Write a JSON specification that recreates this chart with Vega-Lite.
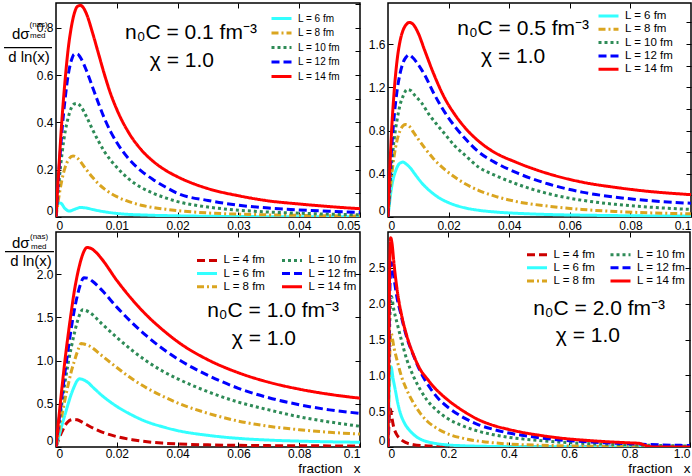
{
"$schema": "https://vega.github.io/schema/vega-lite/v6.json",
"padding": {"left": 2, "top": 1, "right": 0, "bottom": 0},
"config": {
 "font": "Liberation Sans",
 "view": {"stroke": "#000", "strokeWidth": 1.5},
 "axis": {"domain": false, "grid": false, "tickSize": -5, "tickColor": "#000", "tickWidth": 1, "labelPadding": 8, "labelFontSize": 12, "labelColor": "#000", "labelFont": "Liberation Sans", "labelFlush": true, "labelOverlap": false, "titleFont": "Liberation Sans", "titleFontWeight": "normal", "titleColor": "#000"},
 "legend": {"symbolType": "M-1,0H3", "symbolSize": 100, "symbolStrokeWidth": 3, "labelOffset": 15, "rowPadding": 0.3, "padding": 0, "gridAlign": "each", "labelFont": "Liberation Sans", "labelColor": "#000", "title": null},
 "text": {"font": "Liberation Sans", "color": "#000"}
},
"datasets": {
 "tl": [
  {"x":0,"y":0,"L":"L = 6 fm"},{"x":0.0003,"y":0.06,"L":"L = 6 fm"},{"x":0.0008,"y":0.058,"L":"L = 6 fm"},{"x":0.0015,"y":0.035,"L":"L = 6 fm"},{"x":0.0022,"y":0.025,"L":"L = 6 fm"},{"x":0.003,"y":0.032,"L":"L = 6 fm"},{"x":0.004,"y":0.04,"L":"L = 6 fm"},{"x":0.005,"y":0.038,"L":"L = 6 fm"},{"x":0.006,"y":0.032,"L":"L = 6 fm"},{"x":0.008,"y":0.022,"L":"L = 6 fm"},{"x":0.01,"y":0.015,"L":"L = 6 fm"},{"x":0.015,"y":0.008,"L":"L = 6 fm"},{"x":0.02,"y":0.005,"L":"L = 6 fm"},{"x":0.03,"y":0.002,"L":"L = 6 fm"},{"x":0.04,"y":0.001,"L":"L = 6 fm"},{"x":0.05,"y":0.0005,"L":"L = 6 fm"},
  {"x":0,"y":0,"L":"L = 8 fm"},{"x":0.0005,"y":0.09,"L":"L = 8 fm"},{"x":0.001,"y":0.16,"L":"L = 8 fm"},{"x":0.0015,"y":0.21,"L":"L = 8 fm"},{"x":0.002,"y":0.24,"L":"L = 8 fm"},{"x":0.0028,"y":0.258,"L":"L = 8 fm"},{"x":0.0035,"y":0.25,"L":"L = 8 fm"},{"x":0.004,"y":0.235,"L":"L = 8 fm"},{"x":0.005,"y":0.2,"L":"L = 8 fm"},{"x":0.006,"y":0.168,"L":"L = 8 fm"},{"x":0.007,"y":0.14,"L":"L = 8 fm"},{"x":0.008,"y":0.118,"L":"L = 8 fm"},{"x":0.009,"y":0.1,"L":"L = 8 fm"},{"x":0.01,"y":0.086,"L":"L = 8 fm"},{"x":0.012,"y":0.065,"L":"L = 8 fm"},{"x":0.014,"y":0.05,"L":"L = 8 fm"},{"x":0.016,"y":0.04,"L":"L = 8 fm"},{"x":0.018,"y":0.033,"L":"L = 8 fm"},{"x":0.02,"y":0.027,"L":"L = 8 fm"},{"x":0.025,"y":0.017,"L":"L = 8 fm"},{"x":0.03,"y":0.012,"L":"L = 8 fm"},{"x":0.035,"y":0.009,"L":"L = 8 fm"},{"x":0.04,"y":0.007,"L":"L = 8 fm"},{"x":0.045,"y":0.005,"L":"L = 8 fm"},{"x":0.05,"y":0.004,"L":"L = 8 fm"},
  {"x":0,"y":0,"L":"L = 10 fm"},{"x":0.0005,"y":0.15,"L":"L = 10 fm"},{"x":0.001,"y":0.27,"L":"L = 10 fm"},{"x":0.0015,"y":0.36,"L":"L = 10 fm"},{"x":0.002,"y":0.42,"L":"L = 10 fm"},{"x":0.0025,"y":0.46,"L":"L = 10 fm"},{"x":0.003,"y":0.478,"L":"L = 10 fm"},{"x":0.0035,"y":0.48,"L":"L = 10 fm"},{"x":0.004,"y":0.47,"L":"L = 10 fm"},{"x":0.005,"y":0.425,"L":"L = 10 fm"},{"x":0.006,"y":0.37,"L":"L = 10 fm"},{"x":0.007,"y":0.32,"L":"L = 10 fm"},{"x":0.008,"y":0.275,"L":"L = 10 fm"},{"x":0.009,"y":0.24,"L":"L = 10 fm"},{"x":0.01,"y":0.21,"L":"L = 10 fm"},{"x":0.012,"y":0.16,"L":"L = 10 fm"},{"x":0.014,"y":0.125,"L":"L = 10 fm"},{"x":0.016,"y":0.1,"L":"L = 10 fm"},{"x":0.018,"y":0.081,"L":"L = 10 fm"},{"x":0.02,"y":0.065,"L":"L = 10 fm"},{"x":0.025,"y":0.042,"L":"L = 10 fm"},{"x":0.03,"y":0.029,"L":"L = 10 fm"},{"x":0.035,"y":0.021,"L":"L = 10 fm"},{"x":0.04,"y":0.016,"L":"L = 10 fm"},{"x":0.045,"y":0.012,"L":"L = 10 fm"},{"x":0.05,"y":0.009,"L":"L = 10 fm"},
  {"x":0,"y":0,"L":"L = 12 fm"},{"x":0.0005,"y":0.2,"L":"L = 12 fm"},{"x":0.001,"y":0.37,"L":"L = 12 fm"},{"x":0.0015,"y":0.5,"L":"L = 12 fm"},{"x":0.002,"y":0.6,"L":"L = 12 fm"},{"x":0.0025,"y":0.66,"L":"L = 12 fm"},{"x":0.003,"y":0.688,"L":"L = 12 fm"},{"x":0.0035,"y":0.69,"L":"L = 12 fm"},{"x":0.004,"y":0.675,"L":"L = 12 fm"},{"x":0.005,"y":0.62,"L":"L = 12 fm"},{"x":0.006,"y":0.55,"L":"L = 12 fm"},{"x":0.007,"y":0.48,"L":"L = 12 fm"},{"x":0.008,"y":0.415,"L":"L = 12 fm"},{"x":0.009,"y":0.36,"L":"L = 12 fm"},{"x":0.01,"y":0.315,"L":"L = 12 fm"},{"x":0.012,"y":0.245,"L":"L = 12 fm"},{"x":0.014,"y":0.195,"L":"L = 12 fm"},{"x":0.016,"y":0.158,"L":"L = 12 fm"},{"x":0.018,"y":0.127,"L":"L = 12 fm"},{"x":0.02,"y":0.1,"L":"L = 12 fm"},{"x":0.025,"y":0.07,"L":"L = 12 fm"},{"x":0.03,"y":0.05,"L":"L = 12 fm"},{"x":0.035,"y":0.038,"L":"L = 12 fm"},{"x":0.04,"y":0.03,"L":"L = 12 fm"},{"x":0.045,"y":0.024,"L":"L = 12 fm"},{"x":0.05,"y":0.019,"L":"L = 12 fm"},
  {"x":0,"y":0,"L":"L = 14 fm"},{"x":0.0005,"y":0.22,"L":"L = 14 fm"},{"x":0.001,"y":0.42,"L":"L = 14 fm"},{"x":0.0015,"y":0.58,"L":"L = 14 fm"},{"x":0.002,"y":0.71,"L":"L = 14 fm"},{"x":0.0025,"y":0.8,"L":"L = 14 fm"},{"x":0.003,"y":0.86,"L":"L = 14 fm"},{"x":0.0035,"y":0.89,"L":"L = 14 fm"},{"x":0.004,"y":0.895,"L":"L = 14 fm"},{"x":0.0045,"y":0.885,"L":"L = 14 fm"},{"x":0.005,"y":0.86,"L":"L = 14 fm"},{"x":0.006,"y":0.78,"L":"L = 14 fm"},{"x":0.007,"y":0.69,"L":"L = 14 fm"},{"x":0.008,"y":0.6,"L":"L = 14 fm"},{"x":0.009,"y":0.52,"L":"L = 14 fm"},{"x":0.01,"y":0.455,"L":"L = 14 fm"},{"x":0.012,"y":0.355,"L":"L = 14 fm"},{"x":0.014,"y":0.285,"L":"L = 14 fm"},{"x":0.016,"y":0.235,"L":"L = 14 fm"},{"x":0.018,"y":0.198,"L":"L = 14 fm"},{"x":0.02,"y":0.17,"L":"L = 14 fm"},{"x":0.025,"y":0.12,"L":"L = 14 fm"},{"x":0.03,"y":0.09,"L":"L = 14 fm"},{"x":0.035,"y":0.068,"L":"L = 14 fm"},{"x":0.04,"y":0.055,"L":"L = 14 fm"},{"x":0.045,"y":0.044,"L":"L = 14 fm"},{"x":0.05,"y":0.035,"L":"L = 14 fm"}
 ],
 "tr": [
  {"x":0,"y":0,"L":"L = 6 fm"},{"x":0.0011,"y":0.26,"L":"L = 6 fm"},{"x":0.0027,"y":0.44,"L":"L = 6 fm"},{"x":0.004,"y":0.5,"L":"L = 6 fm"},{"x":0.005,"y":0.508,"L":"L = 6 fm"},{"x":0.006,"y":0.49,"L":"L = 6 fm"},{"x":0.0075,"y":0.45,"L":"L = 6 fm"},{"x":0.0088,"y":0.4,"L":"L = 6 fm"},{"x":0.011,"y":0.32,"L":"L = 6 fm"},{"x":0.0143,"y":0.23,"L":"L = 6 fm"},{"x":0.017,"y":0.175,"L":"L = 6 fm"},{"x":0.0198,"y":0.135,"L":"L = 6 fm"},{"x":0.0253,"y":0.085,"L":"L = 6 fm"},{"x":0.03,"y":0.062,"L":"L = 6 fm"},{"x":0.036,"y":0.045,"L":"L = 6 fm"},{"x":0.045,"y":0.031,"L":"L = 6 fm"},{"x":0.053,"y":0.023,"L":"L = 6 fm"},{"x":0.064,"y":0.017,"L":"L = 6 fm"},{"x":0.075,"y":0.013,"L":"L = 6 fm"},{"x":0.086,"y":0.01,"L":"L = 6 fm"},{"x":0.1,"y":0.008,"L":"L = 6 fm"},
  {"x":0,"y":0,"L":"L = 8 fm"},{"x":0.001,"y":0.33,"L":"L = 8 fm"},{"x":0.002,"y":0.56,"L":"L = 8 fm"},{"x":0.003,"y":0.71,"L":"L = 8 fm"},{"x":0.004,"y":0.8,"L":"L = 8 fm"},{"x":0.005,"y":0.845,"L":"L = 8 fm"},{"x":0.0058,"y":0.855,"L":"L = 8 fm"},{"x":0.007,"y":0.84,"L":"L = 8 fm"},{"x":0.0085,"y":0.78,"L":"L = 8 fm"},{"x":0.01,"y":0.72,"L":"L = 8 fm"},{"x":0.0121,"y":0.64,"L":"L = 8 fm"},{"x":0.015,"y":0.54,"L":"L = 8 fm"},{"x":0.0187,"y":0.44,"L":"L = 8 fm"},{"x":0.022,"y":0.37,"L":"L = 8 fm"},{"x":0.0253,"y":0.31,"L":"L = 8 fm"},{"x":0.03,"y":0.245,"L":"L = 8 fm"},{"x":0.035,"y":0.195,"L":"L = 8 fm"},{"x":0.042,"y":0.145,"L":"L = 8 fm"},{"x":0.053,"y":0.1,"L":"L = 8 fm"},{"x":0.064,"y":0.07,"L":"L = 8 fm"},{"x":0.075,"y":0.051,"L":"L = 8 fm"},{"x":0.086,"y":0.039,"L":"L = 8 fm"},{"x":0.1,"y":0.029,"L":"L = 8 fm"},
  {"x":0,"y":0,"L":"L = 10 fm"},{"x":0.001,"y":0.42,"L":"L = 10 fm"},{"x":0.002,"y":0.71,"L":"L = 10 fm"},{"x":0.003,"y":0.9,"L":"L = 10 fm"},{"x":0.004,"y":1.04,"L":"L = 10 fm"},{"x":0.005,"y":1.12,"L":"L = 10 fm"},{"x":0.0063,"y":1.18,"L":"L = 10 fm"},{"x":0.0075,"y":1.17,"L":"L = 10 fm"},{"x":0.009,"y":1.12,"L":"L = 10 fm"},{"x":0.011,"y":1.06,"L":"L = 10 fm"},{"x":0.0135,"y":0.95,"L":"L = 10 fm"},{"x":0.016,"y":0.86,"L":"L = 10 fm"},{"x":0.0187,"y":0.77,"L":"L = 10 fm"},{"x":0.022,"y":0.66,"L":"L = 10 fm"},{"x":0.0253,"y":0.575,"L":"L = 10 fm"},{"x":0.03,"y":0.46,"L":"L = 10 fm"},{"x":0.035,"y":0.39,"L":"L = 10 fm"},{"x":0.042,"y":0.31,"L":"L = 10 fm"},{"x":0.053,"y":0.215,"L":"L = 10 fm"},{"x":0.064,"y":0.155,"L":"L = 10 fm"},{"x":0.075,"y":0.117,"L":"L = 10 fm"},{"x":0.086,"y":0.092,"L":"L = 10 fm"},{"x":0.1,"y":0.07,"L":"L = 10 fm"},
  {"x":0,"y":0,"L":"L = 12 fm"},{"x":0.001,"y":0.55,"L":"L = 12 fm"},{"x":0.002,"y":0.92,"L":"L = 12 fm"},{"x":0.003,"y":1.17,"L":"L = 12 fm"},{"x":0.004,"y":1.33,"L":"L = 12 fm"},{"x":0.005,"y":1.43,"L":"L = 12 fm"},{"x":0.006,"y":1.48,"L":"L = 12 fm"},{"x":0.0068,"y":1.5,"L":"L = 12 fm"},{"x":0.008,"y":1.48,"L":"L = 12 fm"},{"x":0.01,"y":1.41,"L":"L = 12 fm"},{"x":0.012,"y":1.32,"L":"L = 12 fm"},{"x":0.015,"y":1.15,"L":"L = 12 fm"},{"x":0.0187,"y":0.97,"L":"L = 12 fm"},{"x":0.022,"y":0.84,"L":"L = 12 fm"},{"x":0.0253,"y":0.73,"L":"L = 12 fm"},{"x":0.03,"y":0.6,"L":"L = 12 fm"},{"x":0.035,"y":0.51,"L":"L = 12 fm"},{"x":0.042,"y":0.415,"L":"L = 12 fm"},{"x":0.053,"y":0.305,"L":"L = 12 fm"},{"x":0.064,"y":0.23,"L":"L = 12 fm"},{"x":0.075,"y":0.184,"L":"L = 12 fm"},{"x":0.086,"y":0.152,"L":"L = 12 fm"},{"x":0.1,"y":0.127,"L":"L = 12 fm"},
  {"x":0,"y":0,"L":"L = 14 fm"},{"x":0.001,"y":0.7,"L":"L = 14 fm"},{"x":0.002,"y":1.15,"L":"L = 14 fm"},{"x":0.003,"y":1.45,"L":"L = 14 fm"},{"x":0.004,"y":1.63,"L":"L = 14 fm"},{"x":0.005,"y":1.73,"L":"L = 14 fm"},{"x":0.006,"y":1.78,"L":"L = 14 fm"},{"x":0.007,"y":1.8,"L":"L = 14 fm"},{"x":0.008,"y":1.79,"L":"L = 14 fm"},{"x":0.01,"y":1.7,"L":"L = 14 fm"},{"x":0.012,"y":1.55,"L":"L = 14 fm"},{"x":0.015,"y":1.33,"L":"L = 14 fm"},{"x":0.0187,"y":1.1,"L":"L = 14 fm"},{"x":0.022,"y":0.95,"L":"L = 14 fm"},{"x":0.0253,"y":0.83,"L":"L = 14 fm"},{"x":0.03,"y":0.7,"L":"L = 14 fm"},{"x":0.035,"y":0.6,"L":"L = 14 fm"},{"x":0.042,"y":0.51,"L":"L = 14 fm"},{"x":0.053,"y":0.4,"L":"L = 14 fm"},{"x":0.064,"y":0.323,"L":"L = 14 fm"},{"x":0.075,"y":0.274,"L":"L = 14 fm"},{"x":0.086,"y":0.237,"L":"L = 14 fm"},{"x":0.1,"y":0.207,"L":"L = 14 fm"}
 ],
 "bl": [
  {"x":0,"y":0,"L":"L = 4 fm"},{"x":0.001,"y":0.1,"L":"L = 4 fm"},{"x":0.002,"y":0.18,"L":"L = 4 fm"},{"x":0.003,"y":0.25,"L":"L = 4 fm"},{"x":0.004,"y":0.295,"L":"L = 4 fm"},{"x":0.005,"y":0.315,"L":"L = 4 fm"},{"x":0.006,"y":0.32,"L":"L = 4 fm"},{"x":0.007,"y":0.315,"L":"L = 4 fm"},{"x":0.009,"y":0.28,"L":"L = 4 fm"},{"x":0.011,"y":0.24,"L":"L = 4 fm"},{"x":0.014,"y":0.19,"L":"L = 4 fm"},{"x":0.017,"y":0.15,"L":"L = 4 fm"},{"x":0.02,"y":0.12,"L":"L = 4 fm"},{"x":0.025,"y":0.085,"L":"L = 4 fm"},{"x":0.03,"y":0.06,"L":"L = 4 fm"},{"x":0.035,"y":0.045,"L":"L = 4 fm"},{"x":0.04,"y":0.035,"L":"L = 4 fm"},{"x":0.05,"y":0.025,"L":"L = 4 fm"},{"x":0.06,"y":0.019,"L":"L = 4 fm"},{"x":0.07,"y":0.016,"L":"L = 4 fm"},{"x":0.08,"y":0.014,"L":"L = 4 fm"},{"x":0.09,"y":0.013,"L":"L = 4 fm"},{"x":0.1,"y":0.012,"L":"L = 4 fm"},
  {"x":0,"y":0,"L":"L = 6 fm"},{"x":0.001,"y":0.13,"L":"L = 6 fm"},{"x":0.002,"y":0.26,"L":"L = 6 fm"},{"x":0.003,"y":0.38,"L":"L = 6 fm"},{"x":0.004,"y":0.5,"L":"L = 6 fm"},{"x":0.005,"y":0.61,"L":"L = 6 fm"},{"x":0.006,"y":0.7,"L":"L = 6 fm"},{"x":0.007,"y":0.77,"L":"L = 6 fm"},{"x":0.0077,"y":0.79,"L":"L = 6 fm"},{"x":0.0085,"y":0.785,"L":"L = 6 fm"},{"x":0.01,"y":0.76,"L":"L = 6 fm"},{"x":0.0125,"y":0.68,"L":"L = 6 fm"},{"x":0.015,"y":0.6,"L":"L = 6 fm"},{"x":0.02,"y":0.47,"L":"L = 6 fm"},{"x":0.025,"y":0.37,"L":"L = 6 fm"},{"x":0.03,"y":0.29,"L":"L = 6 fm"},{"x":0.035,"y":0.235,"L":"L = 6 fm"},{"x":0.04,"y":0.19,"L":"L = 6 fm"},{"x":0.05,"y":0.135,"L":"L = 6 fm"},{"x":0.06,"y":0.1,"L":"L = 6 fm"},{"x":0.07,"y":0.08,"L":"L = 6 fm"},{"x":0.08,"y":0.068,"L":"L = 6 fm"},{"x":0.09,"y":0.06,"L":"L = 6 fm"},{"x":0.1,"y":0.055,"L":"L = 6 fm"},
  {"x":0,"y":0,"L":"L = 8 fm"},{"x":0.001,"y":0.2,"L":"L = 8 fm"},{"x":0.002,"y":0.38,"L":"L = 8 fm"},{"x":0.003,"y":0.56,"L":"L = 8 fm"},{"x":0.004,"y":0.72,"L":"L = 8 fm"},{"x":0.005,"y":0.87,"L":"L = 8 fm"},{"x":0.006,"y":0.99,"L":"L = 8 fm"},{"x":0.007,"y":1.1,"L":"L = 8 fm"},{"x":0.0083,"y":1.2,"L":"L = 8 fm"},{"x":0.0095,"y":1.19,"L":"L = 8 fm"},{"x":0.011,"y":1.17,"L":"L = 8 fm"},{"x":0.015,"y":1.06,"L":"L = 8 fm"},{"x":0.02,"y":0.92,"L":"L = 8 fm"},{"x":0.025,"y":0.79,"L":"L = 8 fm"},{"x":0.03,"y":0.68,"L":"L = 8 fm"},{"x":0.035,"y":0.59,"L":"L = 8 fm"},{"x":0.04,"y":0.51,"L":"L = 8 fm"},{"x":0.05,"y":0.39,"L":"L = 8 fm"},{"x":0.06,"y":0.3,"L":"L = 8 fm"},{"x":0.07,"y":0.24,"L":"L = 8 fm"},{"x":0.08,"y":0.2,"L":"L = 8 fm"},{"x":0.09,"y":0.17,"L":"L = 8 fm"},{"x":0.1,"y":0.15,"L":"L = 8 fm"},
  {"x":0,"y":0,"L":"L = 10 fm"},{"x":0.001,"y":0.27,"L":"L = 10 fm"},{"x":0.002,"y":0.52,"L":"L = 10 fm"},{"x":0.003,"y":0.76,"L":"L = 10 fm"},{"x":0.004,"y":0.97,"L":"L = 10 fm"},{"x":0.005,"y":1.15,"L":"L = 10 fm"},{"x":0.006,"y":1.31,"L":"L = 10 fm"},{"x":0.007,"y":1.45,"L":"L = 10 fm"},{"x":0.008,"y":1.55,"L":"L = 10 fm"},{"x":0.0087,"y":1.59,"L":"L = 10 fm"},{"x":0.0095,"y":1.585,"L":"L = 10 fm"},{"x":0.011,"y":1.56,"L":"L = 10 fm"},{"x":0.015,"y":1.43,"L":"L = 10 fm"},{"x":0.02,"y":1.27,"L":"L = 10 fm"},{"x":0.025,"y":1.12,"L":"L = 10 fm"},{"x":0.03,"y":0.99,"L":"L = 10 fm"},{"x":0.035,"y":0.88,"L":"L = 10 fm"},{"x":0.04,"y":0.79,"L":"L = 10 fm"},{"x":0.05,"y":0.64,"L":"L = 10 fm"},{"x":0.06,"y":0.52,"L":"L = 10 fm"},{"x":0.07,"y":0.43,"L":"L = 10 fm"},{"x":0.08,"y":0.35,"L":"L = 10 fm"},{"x":0.09,"y":0.29,"L":"L = 10 fm"},{"x":0.1,"y":0.24,"L":"L = 10 fm"},
  {"x":0,"y":0,"L":"L = 12 fm"},{"x":0.001,"y":0.31,"L":"L = 12 fm"},{"x":0.002,"y":0.6,"L":"L = 12 fm"},{"x":0.003,"y":0.88,"L":"L = 12 fm"},{"x":0.004,"y":1.13,"L":"L = 12 fm"},{"x":0.005,"y":1.37,"L":"L = 12 fm"},{"x":0.006,"y":1.58,"L":"L = 12 fm"},{"x":0.007,"y":1.75,"L":"L = 12 fm"},{"x":0.008,"y":1.88,"L":"L = 12 fm"},{"x":0.0092,"y":1.96,"L":"L = 12 fm"},{"x":0.0105,"y":1.955,"L":"L = 12 fm"},{"x":0.012,"y":1.92,"L":"L = 12 fm"},{"x":0.015,"y":1.82,"L":"L = 12 fm"},{"x":0.02,"y":1.62,"L":"L = 12 fm"},{"x":0.025,"y":1.44,"L":"L = 12 fm"},{"x":0.03,"y":1.28,"L":"L = 12 fm"},{"x":0.035,"y":1.14,"L":"L = 12 fm"},{"x":0.04,"y":1.02,"L":"L = 12 fm"},{"x":0.05,"y":0.83,"L":"L = 12 fm"},{"x":0.06,"y":0.68,"L":"L = 12 fm"},{"x":0.07,"y":0.57,"L":"L = 12 fm"},{"x":0.08,"y":0.49,"L":"L = 12 fm"},{"x":0.09,"y":0.43,"L":"L = 12 fm"},{"x":0.1,"y":0.39,"L":"L = 12 fm"},
  {"x":0,"y":0,"L":"L = 14 fm"},{"x":0.001,"y":0.36,"L":"L = 14 fm"},{"x":0.002,"y":0.7,"L":"L = 14 fm"},{"x":0.003,"y":1.02,"L":"L = 14 fm"},{"x":0.004,"y":1.3,"L":"L = 14 fm"},{"x":0.005,"y":1.56,"L":"L = 14 fm"},{"x":0.006,"y":1.8,"L":"L = 14 fm"},{"x":0.007,"y":1.99,"L":"L = 14 fm"},{"x":0.008,"y":2.14,"L":"L = 14 fm"},{"x":0.009,"y":2.25,"L":"L = 14 fm"},{"x":0.0102,"y":2.31,"L":"L = 14 fm"},{"x":0.0115,"y":2.3,"L":"L = 14 fm"},{"x":0.013,"y":2.26,"L":"L = 14 fm"},{"x":0.015,"y":2.18,"L":"L = 14 fm"},{"x":0.02,"y":1.93,"L":"L = 14 fm"},{"x":0.025,"y":1.71,"L":"L = 14 fm"},{"x":0.03,"y":1.52,"L":"L = 14 fm"},{"x":0.035,"y":1.36,"L":"L = 14 fm"},{"x":0.04,"y":1.22,"L":"L = 14 fm"},{"x":0.05,"y":1.01,"L":"L = 14 fm"},{"x":0.06,"y":0.86,"L":"L = 14 fm"},{"x":0.07,"y":0.75,"L":"L = 14 fm"},{"x":0.08,"y":0.67,"L":"L = 14 fm"},{"x":0.09,"y":0.61,"L":"L = 14 fm"},{"x":0.1,"y":0.565,"L":"L = 14 fm"}
 ],
 "br": [
  {"x":0,"y":0,"L":"L = 4 fm"},{"x":0.002,"y":0.2,"L":"L = 4 fm"},{"x":0.005,"y":0.45,"L":"L = 4 fm"},{"x":0.008,"y":0.53,"L":"L = 4 fm"},{"x":0.012,"y":0.43,"L":"L = 4 fm"},{"x":0.019,"y":0.275,"L":"L = 4 fm"},{"x":0.028,"y":0.18,"L":"L = 4 fm"},{"x":0.041,"y":0.112,"L":"L = 4 fm"},{"x":0.06,"y":0.06,"L":"L = 4 fm"},{"x":0.085,"y":0.032,"L":"L = 4 fm"},{"x":0.12,"y":0.018,"L":"L = 4 fm"},{"x":0.195,"y":0.008,"L":"L = 4 fm"},{"x":0.3,"y":0.004,"L":"L = 4 fm"},{"x":0.41,"y":0.002,"L":"L = 4 fm"},{"x":0.6,"y":0.001,"L":"L = 4 fm"},{"x":1.0,"y":0,"L":"L = 4 fm"},
  {"x":0,"y":0,"L":"L = 6 fm"},{"x":0.003,"y":0.6,"L":"L = 6 fm"},{"x":0.007,"y":1.02,"L":"L = 6 fm"},{"x":0.01,"y":1.12,"L":"L = 6 fm"},{"x":0.017,"y":0.95,"L":"L = 6 fm"},{"x":0.024,"y":0.8,"L":"L = 6 fm"},{"x":0.032,"y":0.62,"L":"L = 6 fm"},{"x":0.041,"y":0.47,"L":"L = 6 fm"},{"x":0.055,"y":0.33,"L":"L = 6 fm"},{"x":0.074,"y":0.22,"L":"L = 6 fm"},{"x":0.095,"y":0.14,"L":"L = 6 fm"},{"x":0.118,"y":0.09,"L":"L = 6 fm"},{"x":0.15,"y":0.055,"L":"L = 6 fm"},{"x":0.195,"y":0.03,"L":"L = 6 fm"},{"x":0.25,"y":0.017,"L":"L = 6 fm"},{"x":0.31,"y":0.01,"L":"L = 6 fm"},{"x":0.4,"y":0.005,"L":"L = 6 fm"},{"x":0.53,"y":0.003,"L":"L = 6 fm"},{"x":0.7,"y":0.001,"L":"L = 6 fm"},{"x":1.0,"y":0,"L":"L = 6 fm"},
  {"x":0,"y":0,"L":"L = 8 fm"},{"x":0.003,"y":0.8,"L":"L = 8 fm"},{"x":0.007,"y":1.42,"L":"L = 8 fm"},{"x":0.01,"y":1.59,"L":"L = 8 fm"},{"x":0.02,"y":1.38,"L":"L = 8 fm"},{"x":0.03,"y":1.21,"L":"L = 8 fm"},{"x":0.045,"y":0.98,"L":"L = 8 fm"},{"x":0.063,"y":0.79,"L":"L = 8 fm"},{"x":0.085,"y":0.61,"L":"L = 8 fm"},{"x":0.107,"y":0.47,"L":"L = 8 fm"},{"x":0.13,"y":0.36,"L":"L = 8 fm"},{"x":0.162,"y":0.26,"L":"L = 8 fm"},{"x":0.2,"y":0.18,"L":"L = 8 fm"},{"x":0.25,"y":0.12,"L":"L = 8 fm"},{"x":0.3,"y":0.082,"L":"L = 8 fm"},{"x":0.35,"y":0.058,"L":"L = 8 fm"},{"x":0.4,"y":0.042,"L":"L = 8 fm"},{"x":0.5,"y":0.025,"L":"L = 8 fm"},{"x":0.6,"y":0.015,"L":"L = 8 fm"},{"x":0.7,"y":0.009,"L":"L = 8 fm"},{"x":0.8,"y":0.005,"L":"L = 8 fm"},{"x":0.9,"y":0.003,"L":"L = 8 fm"},{"x":1.0,"y":0.002,"L":"L = 8 fm"},
  {"x":0,"y":0,"L":"L = 10 fm"},{"x":0.003,"y":1.1,"L":"L = 10 fm"},{"x":0.007,"y":1.9,"L":"L = 10 fm"},{"x":0.011,"y":2.1,"L":"L = 10 fm"},{"x":0.02,"y":1.9,"L":"L = 10 fm"},{"x":0.03,"y":1.73,"L":"L = 10 fm"},{"x":0.045,"y":1.48,"L":"L = 10 fm"},{"x":0.063,"y":1.21,"L":"L = 10 fm"},{"x":0.085,"y":0.98,"L":"L = 10 fm"},{"x":0.107,"y":0.8,"L":"L = 10 fm"},{"x":0.13,"y":0.65,"L":"L = 10 fm"},{"x":0.162,"y":0.51,"L":"L = 10 fm"},{"x":0.2,"y":0.39,"L":"L = 10 fm"},{"x":0.25,"y":0.29,"L":"L = 10 fm"},{"x":0.3,"y":0.22,"L":"L = 10 fm"},{"x":0.35,"y":0.17,"L":"L = 10 fm"},{"x":0.4,"y":0.135,"L":"L = 10 fm"},{"x":0.45,"y":0.11,"L":"L = 10 fm"},{"x":0.5,"y":0.09,"L":"L = 10 fm"},{"x":0.6,"y":0.06,"L":"L = 10 fm"},{"x":0.7,"y":0.042,"L":"L = 10 fm"},{"x":0.8,"y":0.03,"L":"L = 10 fm"},{"x":0.9,"y":0.02,"L":"L = 10 fm"},{"x":1.0,"y":0.013,"L":"L = 10 fm"},
  {"x":0,"y":0,"L":"L = 12 fm"},{"x":0.003,"y":1.3,"L":"L = 12 fm"},{"x":0.007,"y":2.3,"L":"L = 12 fm"},{"x":0.012,"y":2.57,"L":"L = 12 fm"},{"x":0.02,"y":2.35,"L":"L = 12 fm"},{"x":0.03,"y":2.08,"L":"L = 12 fm"},{"x":0.041,"y":1.88,"L":"L = 12 fm"},{"x":0.06,"y":1.56,"L":"L = 12 fm"},{"x":0.085,"y":1.27,"L":"L = 12 fm"},{"x":0.11,"y":1.03,"L":"L = 12 fm"},{"x":0.14,"y":0.82,"L":"L = 12 fm"},{"x":0.17,"y":0.66,"L":"L = 12 fm"},{"x":0.2,"y":0.55,"L":"L = 12 fm"},{"x":0.25,"y":0.41,"L":"L = 12 fm"},{"x":0.3,"y":0.31,"L":"L = 12 fm"},{"x":0.35,"y":0.245,"L":"L = 12 fm"},{"x":0.4,"y":0.195,"L":"L = 12 fm"},{"x":0.45,"y":0.16,"L":"L = 12 fm"},{"x":0.5,"y":0.13,"L":"L = 12 fm"},{"x":0.6,"y":0.088,"L":"L = 12 fm"},{"x":0.7,"y":0.063,"L":"L = 12 fm"},{"x":0.8,"y":0.045,"L":"L = 12 fm"},{"x":0.9,"y":0.03,"L":"L = 12 fm"},{"x":1.0,"y":0.02,"L":"L = 12 fm"},
  {"x":0,"y":0,"L":"L = 14 fm"},{"x":0.003,"y":1.4,"L":"L = 14 fm"},{"x":0.006,"y":2.6,"L":"L = 14 fm"},{"x":0.009,"y":2.92,"L":"L = 14 fm"},{"x":0.013,"y":2.85,"L":"L = 14 fm"},{"x":0.02,"y":2.55,"L":"L = 14 fm"},{"x":0.03,"y":2.2,"L":"L = 14 fm"},{"x":0.045,"y":1.84,"L":"L = 14 fm"},{"x":0.063,"y":1.54,"L":"L = 14 fm"},{"x":0.085,"y":1.28,"L":"L = 14 fm"},{"x":0.107,"y":1.08,"L":"L = 14 fm"},{"x":0.13,"y":0.95,"L":"L = 14 fm"},{"x":0.151,"y":0.84,"L":"L = 14 fm"},{"x":0.175,"y":0.74,"L":"L = 14 fm"},{"x":0.2,"y":0.65,"L":"L = 14 fm"},{"x":0.25,"y":0.5,"L":"L = 14 fm"},{"x":0.3,"y":0.38,"L":"L = 14 fm"},{"x":0.35,"y":0.3,"L":"L = 14 fm"},{"x":0.4,"y":0.245,"L":"L = 14 fm"},{"x":0.45,"y":0.2,"L":"L = 14 fm"},{"x":0.5,"y":0.165,"L":"L = 14 fm"},{"x":0.55,"y":0.135,"L":"L = 14 fm"},{"x":0.6,"y":0.112,"L":"L = 14 fm"},{"x":0.65,"y":0.095,"L":"L = 14 fm"},{"x":0.7,"y":0.08,"L":"L = 14 fm"},{"x":0.75,"y":0.068,"L":"L = 14 fm"},{"x":0.8,"y":0.058,"L":"L = 14 fm"},{"x":0.83,"y":0.052,"L":"L = 14 fm"},{"x":0.86,"y":0.012,"L":"L = 14 fm"},{"x":0.88,"y":0,"L":"L = 14 fm"},{"x":1.0,"y":0,"L":"L = 14 fm"}
 ]
},
"columns": 2,
"bounds": "flush",
"spacing": {"row": 15, "column": 28},
"resolve": {"scale": {"color": "independent", "strokeDash": "independent"}},
"concat": [
 {
  "width": 304, "height": 214,
  "resolve": {"scale": {"x": "independent", "y": "independent"}},
  "layer": [
   {"layer": [
    {"data": {"name": "tl"},
     "mark": {"type": "line", "interpolate": "monotone", "strokeWidth": 3, "clip": true},
     "encoding": {
      "x": {"field": "x", "type": "quantitative", "scale": {"domain": [0, 0.05], "nice": false, "zero": false}, "axis": {"orient": "bottom", "title": null, "values": [0, 0.01, 0.02, 0.03, 0.04, 0.05], "labelExpr": "datum.value == 0 ? '0' : format(datum.value, '.2f')"}},
      "y": {"field": "y", "type": "quantitative", "scale": {"domain": [0, 0.905], "nice": false}, "axis": {"orient": "left", "title": null, "values": [0, 0.1, 0.2, 0.3, 0.4, 0.5, 0.6, 0.7, 0.8, 0.9], "labelExpr": "round(datum.value * 10) % 2 == 0 && datum.value < 0.85 ? format(datum.value, '~g') : ''"}},
      "color": {"field": "L", "type": "nominal", "scale": {"domain": ["L = 6 fm", "L = 8 fm", "L = 10 fm", "L = 12 fm", "L = 14 fm"], "range": ["#33ffff", "#daa520", "#2e8b57", "#0000ff", "#ff0000"]}, "legend": {"orient": "none", "legendX": 214, "legendY": 9, "rowPadding": 1.5, "labelFontSize": 10}},
      "strokeDash": {"field": "L", "type": "nominal", "scale": {"domain": ["L = 6 fm", "L = 8 fm", "L = 10 fm", "L = 12 fm", "L = 14 fm"], "range": [[1, 0], [7, 3, 2, 3], [3, 3], [8, 4], [1, 0]]}, "legend": {"orient": "none", "legendX": 214, "legendY": 9, "rowPadding": 1.5, "labelFontSize": 10}}
     }},
    {"data": {"values": [{}]}, "mark": {"type": "text", "text": "n₀C = 0.1 fm⁻³", "fontSize": 21, "align": "center", "baseline": "alphabetic"}, "encoding": {"x": {"datum": 0.0222}, "y": {"datum": 0.754}}},
    {"data": {"values": [{}]}, "mark": {"type": "text", "text": "χ = 1.0", "fontSize": 21, "align": "center", "baseline": "alphabetic"}, "encoding": {"x": {"datum": 0.0207}, "y": {"datum": 0.634}}},
    {"data": {"values": [{}]}, "mark": {"type": "text", "text": "dσ", "fontSize": 15, "align": "left", "baseline": "alphabetic"}, "encoding": {"x": {"datum": -0.00724}, "y": {"datum": 0.754}}},
    {"data": {"values": [{}]}, "mark": {"type": "text", "text": "(nas)", "fontSize": 8, "align": "left", "baseline": "alphabetic"}, "encoding": {"x": {"datum": -0.00436}, "y": {"datum": 0.803}}},
    {"data": {"values": [{}]}, "mark": {"type": "text", "text": "med", "fontSize": 8, "align": "left", "baseline": "alphabetic"}, "encoding": {"x": {"datum": -0.00428}, "y": {"datum": 0.757}}},
    {"data": {"values": [{}]}, "mark": {"type": "rule", "strokeWidth": 1.2, "color": "#000"}, "encoding": {"x": {"datum": -0.00855}, "x2": {"datum": -0.00066}, "y": {"datum": 0.716}}},
    {"data": {"values": [{}]}, "mark": {"type": "text", "text": "d ln(x)", "fontSize": 15, "align": "center", "baseline": "alphabetic"}, "encoding": {"x": {"datum": -0.00444}, "y": {"datum": 0.655}}}
   ]},
   {"data": {"name": "tl"}, "mark": {"type": "point", "opacity": 0, "size": 1},
    "encoding": {
     "x": {"field": "x", "type": "quantitative", "scale": {"domain": [0, 0.05], "nice": false, "zero": false}, "axis": {"orient": "top", "title": null, "labels": false, "values": [0.01, 0.02, 0.03, 0.04]}},
     "y": {"field": "y", "type": "quantitative", "scale": {"domain": [0, 0.905], "nice": false}, "axis": {"orient": "right", "title": null, "labels": false, "values": [0.1, 0.2, 0.3, 0.4, 0.5, 0.6, 0.7, 0.8, 0.9]}}
    }}
  ]
 },
 {
  "width": 303, "height": 214,
  "resolve": {"scale": {"x": "independent", "y": "independent"}},
  "layer": [
   {"layer": [
    {"data": {"name": "tr"},
     "mark": {"type": "line", "interpolate": "monotone", "strokeWidth": 3, "clip": true},
     "encoding": {
      "x": {"field": "x", "type": "quantitative", "scale": {"domain": [0, 0.1], "nice": false, "zero": false}, "axis": {"orient": "bottom", "title": null, "values": [0, 0.02, 0.04, 0.06, 0.08, 0.1], "format": "~g"}},
      "y": {"field": "y", "type": "quantitative", "scale": {"domain": [0, 1.98], "nice": false}, "axis": {"orient": "left", "title": null, "values": [0, 0.2, 0.4, 0.6, 0.8, 1.0, 1.2, 1.4, 1.6, 1.8], "labelExpr": "round(datum.value * 5) % 2 == 0 ? format(datum.value, '~g') : ''"}},
      "color": {"field": "L", "type": "nominal", "scale": {"domain": ["L = 6 fm", "L = 8 fm", "L = 10 fm", "L = 12 fm", "L = 14 fm"], "range": ["#33ffff", "#daa520", "#2e8b57", "#0000ff", "#ff0000"]}, "legend": {"orient": "none", "legendX": 209, "legendY": 6.5, "labelFontSize": 11.5}},
      "strokeDash": {"field": "L", "type": "nominal", "scale": {"domain": ["L = 6 fm", "L = 8 fm", "L = 10 fm", "L = 12 fm", "L = 14 fm"], "range": [[1, 0], [7, 3, 2, 3], [3, 3], [8, 4], [1, 0]]}, "legend": {"orient": "none", "legendX": 209, "legendY": 6.5, "labelFontSize": 11.5}}
     }},
    {"data": {"values": [{}]}, "mark": {"type": "text", "text": "n₀C = 0.5 fm⁻³", "fontSize": 21, "align": "center", "baseline": "alphabetic"}, "encoding": {"x": {"datum": 0.0446}, "y": {"datum": 1.684}}},
    {"data": {"values": [{}]}, "mark": {"type": "text", "text": "χ = 1.0", "fontSize": 21, "align": "center", "baseline": "alphabetic"}, "encoding": {"x": {"datum": 0.0413}, "y": {"datum": 1.421}}}
   ]},
   {"data": {"name": "tr"}, "mark": {"type": "point", "opacity": 0, "size": 1},
    "encoding": {
     "x": {"field": "x", "type": "quantitative", "scale": {"domain": [0, 0.1], "nice": false, "zero": false}, "axis": {"orient": "top", "title": null, "labels": false, "values": [0.02, 0.04, 0.06, 0.08]}},
     "y": {"field": "y", "type": "quantitative", "scale": {"domain": [0, 1.98], "nice": false}, "axis": {"orient": "right", "title": null, "labels": false, "values": [0.2, 0.4, 0.6, 0.8, 1.0, 1.2, 1.4, 1.6, 1.8]}}
    }}
  ]
 },
 {
  "width": 304, "height": 215,
  "resolve": {"scale": {"x": "independent", "y": "independent"}},
  "layer": [
   {"layer": [
    {"data": {"name": "bl"},
     "mark": {"type": "line", "interpolate": "monotone", "strokeWidth": 3, "clip": true},
     "encoding": {
      "x": {"field": "x", "type": "quantitative", "scale": {"domain": [0, 0.1], "nice": false, "zero": false}, "axis": {"orient": "bottom", "title": "fraction\u00a0\u00a0\u00a0x", "titleAnchor": "end", "titleFontSize": 13.5, "titlePadding": 2, "labelPadding": 6, "values": [0, 0.02, 0.04, 0.06, 0.08, 0.1], "format": "~g"}},
      "y": {"field": "y", "type": "quantitative", "scale": {"domain": [0, 2.49], "nice": false}, "axis": {"orient": "left", "title": null, "values": [0, 0.5, 1, 1.5, 2], "labelExpr": "datum.value == 0 ? '0' : format(datum.value, '.1f')"}},
      "color": {"field": "L", "type": "nominal", "scale": {"domain": ["L = 4 fm", "L = 6 fm", "L = 8 fm", "L = 10 fm", "L = 12 fm", "L = 14 fm"], "range": ["#cc0000", "#33ffff", "#daa520", "#2e8b57", "#0000ff", "#ff0000"]}, "legend": {"orient": "none", "legendX": 139.5, "legendY": 21.7, "columns": 2, "columnPadding": 10, "gridAlign": "each", "labelFontSize": 11.5}},
      "strokeDash": {"field": "L", "type": "nominal", "scale": {"domain": ["L = 4 fm", "L = 6 fm", "L = 8 fm", "L = 10 fm", "L = 12 fm", "L = 14 fm"], "range": [[8, 4], [1, 0], [7, 3, 2, 3], [3, 3], [8, 4], [1, 0]]}, "legend": {"orient": "none", "legendX": 139.5, "legendY": 21.7, "columns": 2, "columnPadding": 10, "gridAlign": "each", "labelFontSize": 11.5}}
     }},
    {"data": {"values": [{}]}, "mark": {"type": "text", "text": "n₀C = 1.0 fm⁻³", "fontSize": 21, "align": "center", "baseline": "alphabetic"}, "encoding": {"x": {"datum": 0.0714}, "y": {"datum": 1.501}}},
    {"data": {"values": [{}]}, "mark": {"type": "text", "text": "χ = 1.0", "fontSize": 21, "align": "center", "baseline": "alphabetic"}, "encoding": {"x": {"datum": 0.0684}, "y": {"datum": 1.181}}},
    {"data": {"values": [{}]}, "mark": {"type": "text", "text": "dσ", "fontSize": 15, "align": "left", "baseline": "alphabetic"}, "encoding": {"x": {"datum": -0.01447}, "y": {"datum": 2.307}}},
    {"data": {"values": [{}]}, "mark": {"type": "text", "text": "(nas)", "fontSize": 8, "align": "left", "baseline": "alphabetic"}, "encoding": {"x": {"datum": -0.00855}, "y": {"datum": 2.404}}},
    {"data": {"values": [{}]}, "mark": {"type": "text", "text": "med", "fontSize": 8, "align": "left", "baseline": "alphabetic"}, "encoding": {"x": {"datum": -0.00822}, "y": {"datum": 2.288}}},
    {"data": {"values": [{}]}, "mark": {"type": "rule", "strokeWidth": 1.2, "color": "#000"}, "encoding": {"x": {"datum": -0.01678}, "x2": {"datum": -0.00066}, "y": {"datum": 2.263}}},
    {"data": {"values": [{}]}, "mark": {"type": "text", "text": "d ln(x)", "fontSize": 15, "align": "center", "baseline": "alphabetic"}, "encoding": {"x": {"datum": -0.00822}, "y": {"datum": 2.095}}}
   ]},
   {"data": {"name": "bl"}, "mark": {"type": "point", "opacity": 0, "size": 1},
    "encoding": {
     "x": {"field": "x", "type": "quantitative", "scale": {"domain": [0, 0.1], "nice": false, "zero": false}, "axis": {"orient": "top", "title": null, "labels": false, "values": [0.02, 0.04, 0.06, 0.08]}},
     "y": {"field": "y", "type": "quantitative", "scale": {"domain": [0, 2.49], "nice": false}, "axis": {"orient": "right", "title": null, "labels": false, "values": [0.5, 1, 1.5, 2]}}
    }}
  ]
 },
 {
  "width": 302, "height": 215,
  "resolve": {"scale": {"x": "independent", "y": "independent"}},
  "layer": [
   {"layer": [
    {"data": {"name": "br"},
     "mark": {"type": "line", "interpolate": "monotone", "strokeWidth": 3, "clip": true},
     "encoding": {
      "x": {"field": "x", "type": "quantitative", "scale": {"domain": [0, 1], "nice": false, "zero": false}, "axis": {"orient": "bottom", "title": "fraction\u00a0\u00a0\u00a0x", "titleAnchor": "end", "titleFontSize": 13.5, "titlePadding": 2, "labelPadding": 6, "values": [0, 0.2, 0.4, 0.6, 0.8, 1], "labelExpr": "datum.value == 0 ? '0' : format(datum.value, '.1f')"}},
      "y": {"field": "y", "type": "quantitative", "scale": {"domain": [0, 3.0], "nice": false}, "axis": {"orient": "left", "title": null, "values": [0, 0.5, 1, 1.5, 2, 2.5], "labelExpr": "datum.value == 0 ? '0' : format(datum.value, '.1f')"}},
      "color": {"field": "L", "type": "nominal", "scale": {"domain": ["L = 4 fm", "L = 6 fm", "L = 8 fm", "L = 10 fm", "L = 12 fm", "L = 14 fm"], "range": ["#cc0000", "#33ffff", "#daa520", "#2e8b57", "#0000ff", "#ff0000"]}, "legend": {"orient": "none", "legendX": 137.5, "legendY": 16, "columns": 2, "columnPadding": 8.5, "gridAlign": "each", "labelFontSize": 11.5}},
      "strokeDash": {"field": "L", "type": "nominal", "scale": {"domain": ["L = 4 fm", "L = 6 fm", "L = 8 fm", "L = 10 fm", "L = 12 fm", "L = 14 fm"], "range": [[8, 4], [1, 0], [7, 3, 2, 3], [3, 3], [8, 4], [1, 0]]}, "legend": {"orient": "none", "legendX": 137.5, "legendY": 16, "columns": 2, "columnPadding": 8.5, "gridAlign": "each", "labelFontSize": 11.5}}
     }},
    {"data": {"values": [{}]}, "mark": {"type": "text", "text": "n₀C = 2.0 fm⁻³", "fontSize": 21, "align": "center", "baseline": "alphabetic"}, "encoding": {"x": {"datum": 0.699}, "y": {"datum": 1.844}}},
    {"data": {"values": [{}]}, "mark": {"type": "text", "text": "χ = 1.0", "fontSize": 21, "align": "center", "baseline": "alphabetic"}, "encoding": {"x": {"datum": 0.662}, "y": {"datum": 1.469}}}
   ]},
   {"data": {"name": "br"}, "mark": {"type": "point", "opacity": 0, "size": 1},
    "encoding": {
     "x": {"field": "x", "type": "quantitative", "scale": {"domain": [0, 1], "nice": false, "zero": false}, "axis": {"orient": "top", "title": null, "labels": false, "values": [0.2, 0.4, 0.6, 0.8]}},
     "y": {"field": "y", "type": "quantitative", "scale": {"domain": [0, 3.0], "nice": false}, "axis": {"orient": "right", "title": null, "labels": false, "values": [0.5, 1, 1.5, 2, 2.5]}}
    }}
  ]
 }
]
}
